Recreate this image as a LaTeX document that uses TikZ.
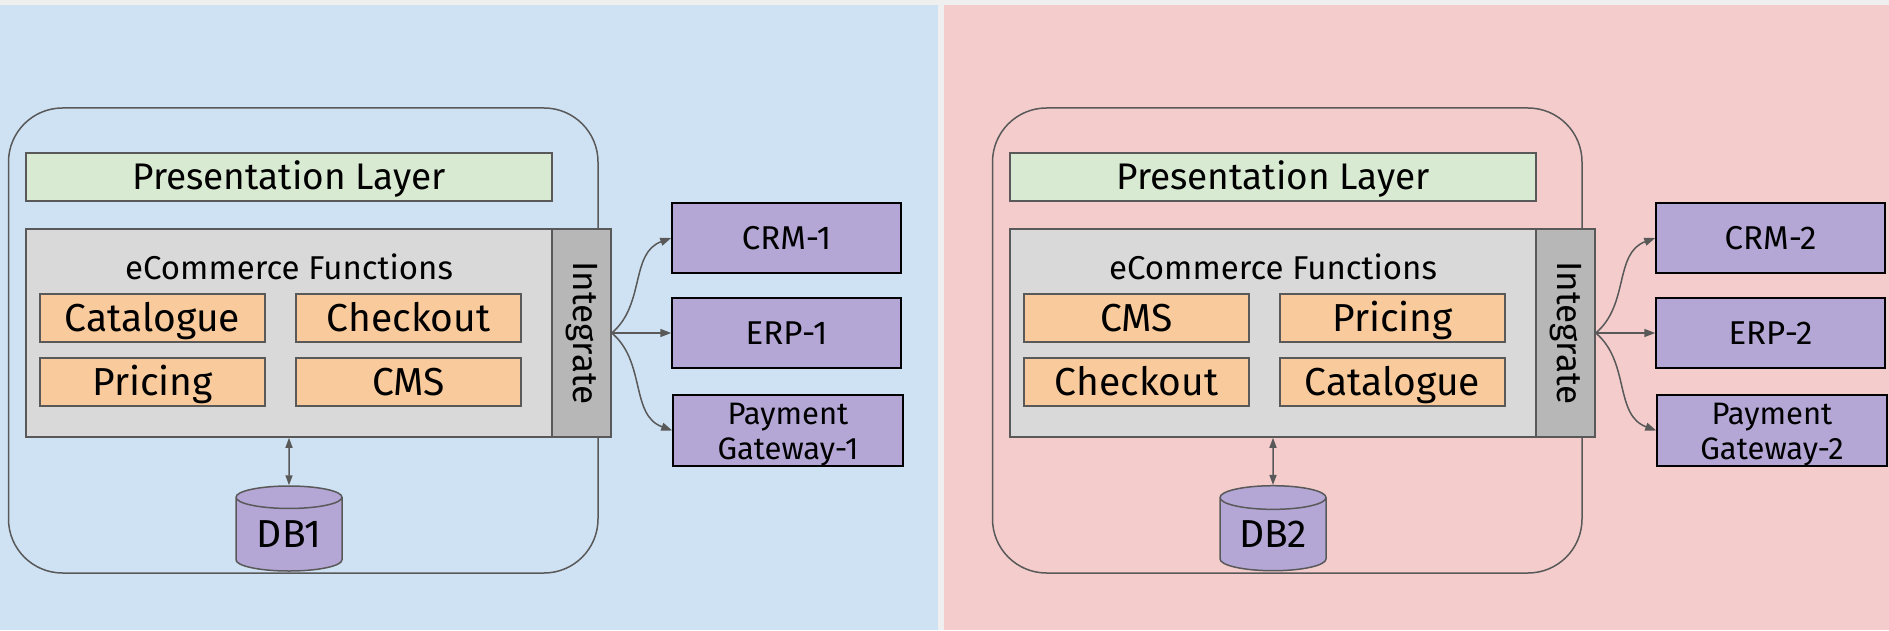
\documentclass[tikz,border=0pt]{standalone}
\usepackage{fontspec}
\setmainfont{Fira Sans}
\usepackage{graphicx}
\usetikzlibrary{shapes.geometric,arrows.meta}

\definecolor{stripgray}{HTML}{EFEFEF}
\definecolor{panelblue}{HTML}{CFE2F3}
\definecolor{panelpink}{HTML}{F4CCCC}
\definecolor{edgegray}{HTML}{595959}
\definecolor{layergreen}{HTML}{D9EAD3}
\definecolor{funcgray}{HTML}{D9D9D9}
\definecolor{integgray}{HTML}{B7B7B7}
\definecolor{modorange}{HTML}{F9CB9C}
\definecolor{extpurple}{HTML}{B4A7D6}

\begin{document}
\begin{tikzpicture}[x=1pt, y=1pt,
    box/.style={draw=edgegray, line width=1.5pt, inner sep=0pt, text depth=0pt},
    layer/.style={box, fill=layergreen, minimum width=526pt, minimum height=48pt,
      font=\fontsize{37}{40}\selectfont, text height=25.5pt},
    funcs/.style={box, fill=funcgray, minimum width=526pt, minimum height=208pt},
    integ/.style={draw=edgegray, line width=1.5pt, inner sep=0pt, fill=integgray,
      minimum width=59pt, minimum height=208pt, font=\fontsize{35}{38}\selectfont},
    module/.style={box, fill=modorange, minimum width=225pt, minimum height=48pt,
      font=\fontsize{39}{42}\selectfont, text height=26.9pt},
    db/.style={box, fill=extpurple, cylinder, shape border rotate=90, aspect=0.35,
      minimum width=106pt, minimum height=85pt, font=\fontsize{39}{42}\selectfont,
      text height=26.9pt},
    ext/.style={draw=black, line width=1.5pt, inner sep=0pt, fill=extpurple,
      minimum width=229pt, minimum height=70pt, font=\fontsize{33}{36}\selectfont,
      text height=22.7pt, text depth=0pt},
    link/.style={draw=edgegray, line width=1.5pt, -{Triangle[length=11pt, width=8pt]}},
  ]
  \useasboundingbox (0,0) rectangle (1889,630);
  \fill[stripgray] (0,0) rectangle (1889,630);
  \fill[panelblue] (0,0) rectangle (937.7,625); % left half
  \fill[panelpink] (944,0) rectangle (1889,625); % right half

  \foreach \p/\dx/\fa/\fb/\fc/\fd in {1/0/Catalogue/Checkout/Pricing/CMS,
                                      2/984/CMS/Pricing/Checkout/Catalogue} {
    \begin{scope}[xshift=\dx pt]
      \draw[edgegray, line width=1.5pt, rounded corners=54pt] (8.5,57) rectangle (598,522);
      \node[layer] (pres\p) at (289,453) {Presentation Layer};
      \node[funcs] (eco\p) at (289,297) {};
      \node[font=\fontsize{33}{36}\selectfont, text height=22.7pt, text depth=0pt]
        (ecolbl\p) at (289,362) {eCommerce Functions};
      \node[integ] (int\p) at (581.5,297) {\rotatebox{-90}{Integrate}};
      \node[module] (fa\p) at (152.5,312) {\fa};
      \node[module] (fb\p) at (408.5,312) {\fb};
      \node[module] (fc\p) at (152.5,248) {\fc};
      \node[module] (fd\p) at (408.5,248) {\fd};
      \node[db] (db\p) at (289,95.5) {DB\p};
      \draw[link, {Triangle[length=10pt, width=7pt]}-{Triangle[length=10pt, width=7pt]}]
        (eco\p.south) -- (db\p.north);

      \node[ext] (crm\p) at (786.5,392) {CRM-\p};
      \node[ext] (erp\p) at (786.5,297) {ERP-\p};
      \node[ext, minimum width=230pt, minimum height=71pt, align=center,
        font=\fontsize{31}{35}\selectfont, text height=57pt] (pay\p) at (788,199.5)
        {Payment\\Gateway-\p};
      \draw[link] (int\p.east) to[out=40, in=200] (crm\p.west);
      \draw[link] (int\p.east) -- (erp\p.west);
      \draw[link] (int\p.east) to[out=-40, in=160] (pay\p.west);
    \end{scope}
  }
\end{tikzpicture}
\end{document}
